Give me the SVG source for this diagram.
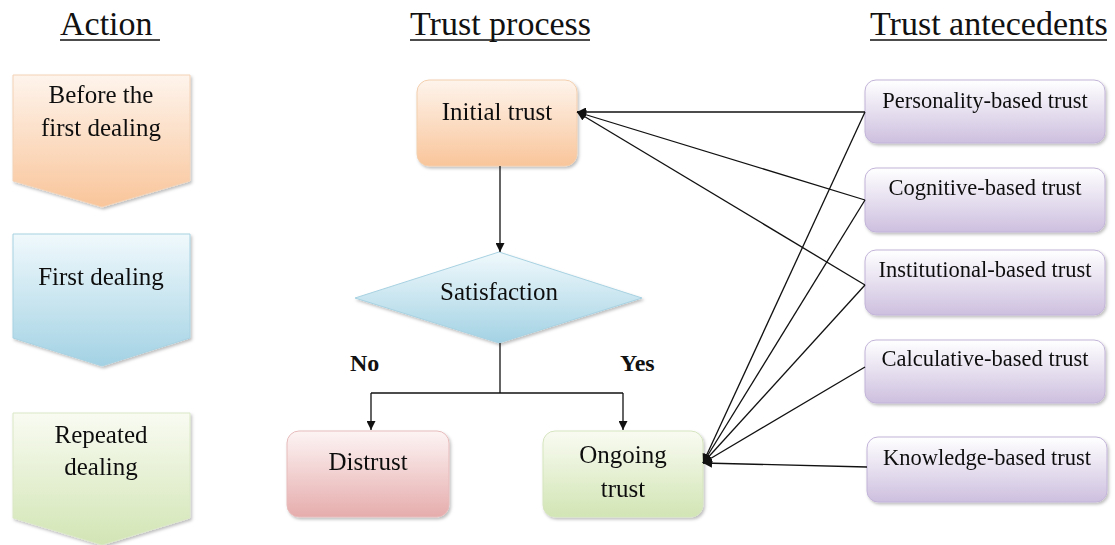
<svg xmlns="http://www.w3.org/2000/svg" width="1115" height="545" viewBox="0 0 1115 545">
  <style>
    text { font-family: "Liberation Serif", "Times New Roman", serif; fill: #111; }
    .head { font-size: 34px; }
    .big { font-size: 25px; text-anchor: middle; }
    .small { font-size: 22.5px; text-anchor: middle; }
    .bold { font-size: 24px; font-weight: bold; }
    .link { stroke: #111; stroke-width: 1.3; fill: none; }
    .uline { stroke: #111; stroke-width: 1.6; }
  </style>
  <defs>
    <linearGradient id="gOrange" x1="0" y1="0" x2="0" y2="1">
      <stop offset="0" stop-color="#fef4ec"/>
      <stop offset="1" stop-color="#f9c59a"/>
    </linearGradient>
    <linearGradient id="gBlue" x1="0" y1="0" x2="0" y2="1">
      <stop offset="0" stop-color="#f0f9fc"/>
      <stop offset="1" stop-color="#a3d2e4"/>
    </linearGradient>
    <linearGradient id="gGreen" x1="0" y1="0" x2="0" y2="1">
      <stop offset="0" stop-color="#f9fbf2"/>
      <stop offset="1" stop-color="#d2e5b4"/>
    </linearGradient>
    <linearGradient id="gPink" x1="0" y1="0" x2="0" y2="1">
      <stop offset="0" stop-color="#fdf4f4"/>
      <stop offset="1" stop-color="#e6acac"/>
    </linearGradient>
    <linearGradient id="gPurple" x1="0" y1="0" x2="0" y2="1">
      <stop offset="0" stop-color="#ffffff"/>
      <stop offset="1" stop-color="#cdbfdf"/>
    </linearGradient>
    <filter id="shadow" x="-10%" y="-10%" width="125%" height="130%">
      <feDropShadow dx="1.5" dy="2" stdDeviation="1.5" flood-color="#000" flood-opacity="0.25"/>
    </filter>
    <marker id="arrow" viewBox="0 0 10 10" refX="10" refY="5" markerWidth="9" markerHeight="9" markerUnits="userSpaceOnUse" orient="auto">
      <path d="M0,0 L10,5 L0,10 z" fill="#111"/>
    </marker>
  </defs>

  <!-- column headings -->
  <g id="headings">
    <text class="head" x="60" y="35">Action</text>
    <line class="uline" x1="60" y1="40" x2="160" y2="40"/>
    <text class="head" x="410" y="35">Trust process</text>
    <line class="uline" x1="410" y1="40" x2="590" y2="40"/>
    <text class="head" x="870" y="35">Trust antecedents</text>
    <line class="uline" x1="870" y1="40" x2="1107" y2="40"/>
  </g>

  <!-- action stages -->
  <g id="stage-before" filter="url(#shadow)">
    <path d="M13,75 H190 V181 L102,207 L13,181 Z" fill="url(#gOrange)" stroke="#f3d2b6" stroke-width="1"/>
    <text class="big" x="101" y="103">Before the</text>
    <text class="big" x="101" y="136">first dealing</text>
  </g>
  <g id="stage-first" filter="url(#shadow)">
    <path d="M13,234 H190 V338 L102,366 L13,338 Z" fill="url(#gBlue)" stroke="#a8d2e2" stroke-width="1"/>
    <text class="big" x="101" y="285">First dealing</text>
  </g>
  <g id="stage-repeated" filter="url(#shadow)">
    <path d="M13,413 H190 V518 L102,545 L13,518 Z" fill="url(#gGreen)" stroke="#dbe8c6" stroke-width="1"/>
    <text class="big" x="101" y="443">Repeated</text>
    <text class="big" x="101" y="475">dealing</text>
  </g>

  <!-- trust process -->
  <g id="initial-trust" filter="url(#shadow)">
    <rect x="417" y="80" width="160" height="86" rx="12" fill="url(#gOrange)" stroke="#f3cfae" stroke-width="1"/>
    <text class="big" x="497" y="120">Initial trust</text>
  </g>
  <g id="satisfaction" filter="url(#shadow)">
    <path d="M499,252 L642,298 L499,343 L355,298 Z" fill="url(#gBlue)" stroke="#a8d2e2" stroke-width="1"/>
    <text class="big" x="499" y="300">Satisfaction</text>
  </g>
  <g id="distrust" filter="url(#shadow)">
    <rect x="287" y="431" width="162" height="86" rx="12" fill="url(#gPink)" stroke="#e7bcbc" stroke-width="1"/>
    <text class="big" x="368" y="470">Distrust</text>
  </g>
  <g id="ongoing-trust" filter="url(#shadow)">
    <rect x="543" y="431" width="160" height="86" rx="12" fill="url(#gGreen)" stroke="#d6e5bf" stroke-width="1"/>
    <text class="big" x="623" y="463">Ongoing</text>
    <text class="big" x="623" y="497">trust</text>
  </g>

  <!-- trust antecedents -->
  <g id="personality" filter="url(#shadow)">
    <rect x="865" y="80" width="240" height="63" rx="11" fill="url(#gPurple)" stroke="#c2b4d8" stroke-width="1"/>
    <text class="small" x="985" y="108">Personality-based trust</text>
  </g>
  <g id="cognitive" filter="url(#shadow)">
    <rect x="865" y="168" width="240" height="64" rx="11" fill="url(#gPurple)" stroke="#c2b4d8" stroke-width="1"/>
    <text class="small" x="985" y="195">Cognitive-based trust</text>
  </g>
  <g id="institutional" filter="url(#shadow)">
    <rect x="865" y="250" width="240" height="65" rx="11" fill="url(#gPurple)" stroke="#c2b4d8" stroke-width="1"/>
    <text class="small" x="985" y="277">Institutional-based trust</text>
  </g>
  <g id="calculative" filter="url(#shadow)">
    <rect x="865" y="340" width="240" height="63" rx="11" fill="url(#gPurple)" stroke="#c2b4d8" stroke-width="1"/>
    <text class="small" x="985" y="366">Calculative-based trust</text>
  </g>
  <g id="knowledge" filter="url(#shadow)">
    <rect x="867" y="437" width="240" height="65" rx="11" fill="url(#gPurple)" stroke="#c2b4d8" stroke-width="1"/>
    <text class="small" x="987" y="465">Knowledge-based trust</text>
  </g>

  <!-- branch labels -->
  <g id="labels">
    <text class="bold" x="350" y="371">No</text>
    <text class="bold" x="620" y="371">Yes</text>
  </g>

  <!-- connectors -->
  <g id="connectors">
    <line class="link" x1="500" y1="166" x2="500" y2="252" marker-end="url(#arrow)"/>
    <line class="link" x1="500" y1="343" x2="500" y2="393"/>
    <line class="link" x1="371" y1="393" x2="623" y2="393"/>
    <line class="link" x1="371" y1="393" x2="371" y2="430" marker-end="url(#arrow)"/>
    <line class="link" x1="623" y1="393" x2="623" y2="430" marker-end="url(#arrow)"/>

    <line class="link" x1="865" y1="112" x2="577" y2="112" marker-end="url(#arrow)"/>
    <line class="link" x1="865" y1="200" x2="577" y2="112" marker-end="url(#arrow)"/>
    <line class="link" x1="865" y1="285" x2="577" y2="112" marker-end="url(#arrow)"/>

    <line class="link" x1="865" y1="112" x2="703" y2="463" marker-end="url(#arrow)"/>
    <line class="link" x1="865" y1="200" x2="703" y2="463" marker-end="url(#arrow)"/>
    <line class="link" x1="865" y1="285" x2="703" y2="463" marker-end="url(#arrow)"/>
    <line class="link" x1="865" y1="367" x2="703" y2="463" marker-end="url(#arrow)"/>
    <line class="link" x1="867" y1="467" x2="703" y2="463" marker-end="url(#arrow)"/>
  </g>
</svg>
